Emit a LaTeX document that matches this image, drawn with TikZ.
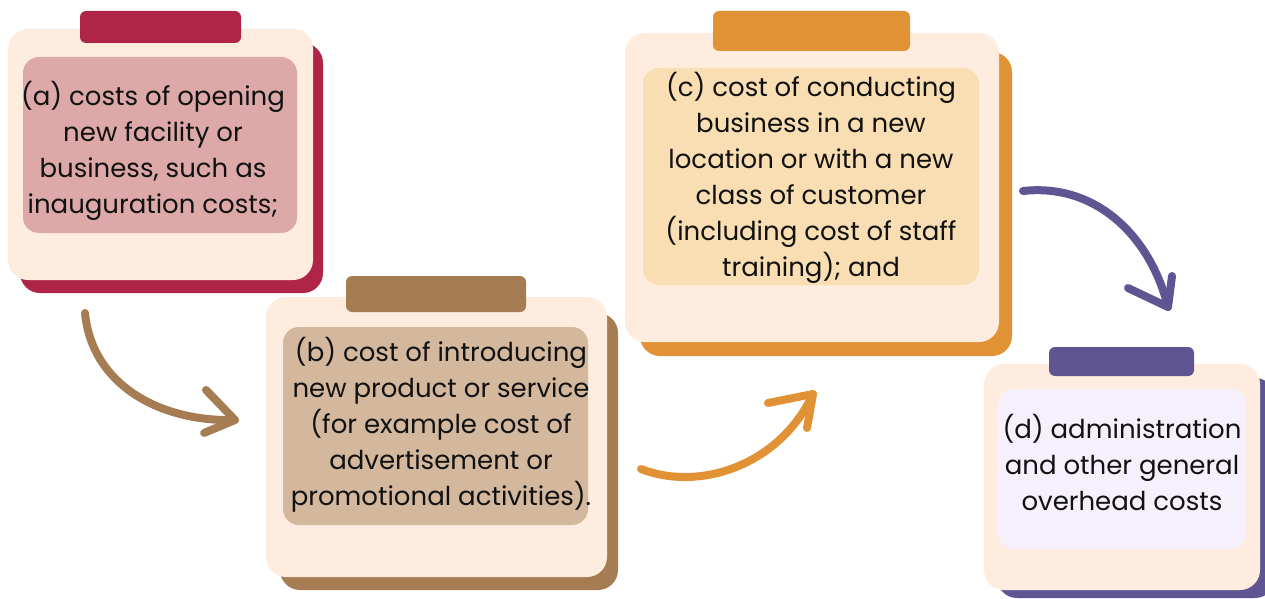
\documentclass[tikz,border=0pt]{standalone}
\usepackage{fontspec}
\setmainfont{Poppins}
\definecolor{cardbg}{HTML}{FEEDDE}
\definecolor{acol}{HTML}{AF2548}
\definecolor{ain}{HTML}{DCA9A8}
\definecolor{bcol}{HTML}{A67C52}
\definecolor{bin}{HTML}{D4B89D}
\definecolor{ccol}{HTML}{E09234}
\definecolor{cin}{HTML}{F8DEB2}
\definecolor{dcol}{HTML}{5E5592}
\definecolor{din}{HTML}{F5F0FC}
\definecolor{txt}{HTML}{111111}
\tikzset{
  front/.style={fill=cardbg, rounded corners=20pt},
  shadowcard/.style={fill=#1, rounded corners=20pt},
  tab/.style={fill=#1, rounded corners=6pt},
  inner/.style={fill=#1, rounded corners=16pt},
  label/.style={text=txt, align=center, inner sep=0pt, font=\fontsize{26}{36}\selectfont},
  brush/.style={draw=#1, line width=8pt, line cap=round, line join=round},
}
\begin{document}
\begin{tikzpicture}[x=1pt,y=-1pt]
\useasboundingbox (0,0) rectangle (1265,599);
% card a
\path[shadowcard=acol] (20,43) rectangle (323,293);
\path[front] (8,29) rectangle (313,280);
\path[tab=acol] (80,11) rectangle (241,43);
\path[inner=ain] (23,57) rectangle (297,233);
\node[label] (a) at (153,150.5) {(a) costs of opening\\new facility or\\business, such as\\inauguration costs;};
% card b
\path[shadowcard=bcol] (280,313) rectangle (618,590);
\path[front] (266,297) rectangle (607,577);
\path[tab=bcol] (346,276) rectangle (526,312);
\path[inner=bin] (283,327) rectangle (588,525);
\node[label] (b) at (441,425) {(b) cost of introducing\\new product or service\\(for example cost of\\advertisement or\\promotional activities).};
% card c
\path[shadowcard=ccol] (640,52) rectangle (1012,356);
\path[front] (625,33) rectangle (999,342);
\path[tab=ccol] (713,11) rectangle (910,51);
\path[inner=cin] (643,68) rectangle (979,285);
\node[label] (c) at (811,178) {(c) cost of conducting\\business in a new\\location or with a new\\class of customer\\(including cost of staff\\training); and};
% card d
\path[shadowcard=dcol] (997,378) rectangle (1275,598);
\path[front] (984,364) rectangle (1260,590);
\path[tab=dcol] (1049,347) rectangle (1194,376);
\path[inner=din] (998,389) rectangle (1246,549);
\node[label] (d) at (1122,462) {(d) administration\\and other general\\overhead costs};
% arrows
\coordinate (a1s) at (85,313);
\coordinate (a1e) at (235,420);
\draw[brush=bcol] (a1s) .. controls (92,385) and (160,422) .. (a1e);
\draw[brush=bcol] (206,390) -- (a1e) -- (204,433);
\coordinate (a2s) at (641,469);
\coordinate (a2e) at (813,394);
\draw[brush=ccol] (a2s) .. controls (700,492) and (780,465) .. (a2e);
\draw[brush=ccol] (768,403) -- (a2e) -- (807,428);
\coordinate (a3s) at (1023,191);
\coordinate (a3e) at (1168,307);
\draw[brush=dcol] (a3s) .. controls (1095,183) and (1150,235) .. (a3e);
\draw[brush=dcol] (1128,288) -- (a3e) -- (1172,276);
\end{tikzpicture}
\end{document}
